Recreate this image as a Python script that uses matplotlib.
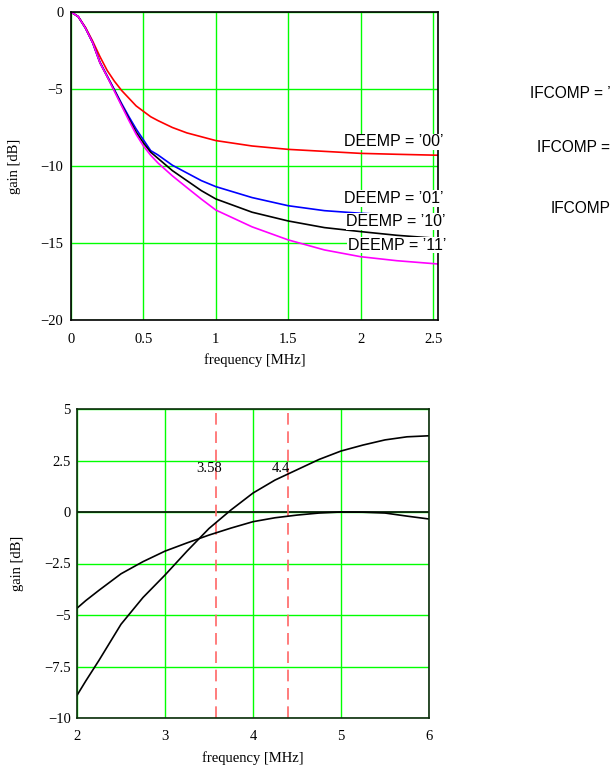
import matplotlib.pyplot as plt

# top chart: de-emphasis curves
freq_top = [0, 0.05, 0.1, 0.15, 0.2, 0.25, 0.3, 0.35, 0.4, 0.45, 0.5, 0.55, 0.6,
            0.7, 0.8, 0.9, 1.0, 1.25, 1.5, 1.75, 2.0, 2.25, 2.53]
gain_00 = [0, -0.3, -1.0, -1.9, -2.9, -3.8, -4.5, -5.1, -5.6, -6.1, -6.45, -6.8, -7.05,
           -7.5, -7.85, -8.1, -8.35, -8.7, -8.92, -9.05, -9.18, -9.24, -9.3]
gain_10 = [0, -0.3, -1.05, -2.0, -3.3, -4.2, -5.1, -6.05, -6.95, -7.8, -8.5, -9.1, -9.5,
           -10.3, -10.95, -11.6, -12.14, -13.0, -13.57, -14.0, -14.26, -14.5, -14.7]
gain_11 = [0, -0.3, -1.05, -2.0, -3.3, -4.2, -5.15, -6.1, -7.05, -7.95, -8.7, -9.3, -9.8,
           -10.64, -11.4, -12.15, -12.86, -13.95, -14.8, -15.45, -15.89, -16.15, -16.36]
freq_01 = freq_top[:-2] + [2.37]
gain_01 = [0, -0.3, -1.05, -2.0, -3.25, -4.15, -5.05, -5.95, -6.8, -7.6, -8.3, -9.0, -9.28,
           -9.95, -10.45, -10.95, -11.34, -12.05, -12.58, -12.9, -13.07, -13.25]

deemp_labels = ["DEEMP = ’00’", "DEEMP = ’01’", "DEEMP = ’10’", "DEEMP = ’11’"]
label_x = [1.885, 1.885, 1.90, 1.913]
label_y = [-8.44, -12.11, -13.6, -15.13]
# only the part that fits inside the picture is shown in the original
ifcomp_labels = ["IFCOMP = ’", "IFCOMP =", "IFCOMP"]

# bottom chart: IF compensation
freq_bot = [2.0, 2.1, 2.25, 2.5, 2.75, 3.0, 3.25, 3.5, 3.75, 4.0, 4.25, 4.5, 4.75,
            5.0, 5.25, 5.5, 5.75, 6.0]
gain_a = [-8.9, -8.2, -7.2, -5.45, -4.15, -3.06, -1.9, -0.8, 0.1, 0.92, 1.55, 2.05, 2.55,
          2.96, 3.25, 3.5, 3.65, 3.7]
gain_b = [-4.67, -4.3, -3.8, -3.0, -2.41, -1.9, -1.5, -1.12, -0.78, -0.47, -0.28, -0.15,
          -0.05, 0, -0.01, -0.05, -0.2, -0.34]
markers = [3.58, 4.4]
marker_labels = ["3.58", "4.4"]

serif = 'Liberation Serif'
sans = 'Liberation Sans'
grid_green = '#00ff00'

fig = plt.figure(figsize=(6.16, 7.71), dpi=100)

# ---- top plot
ax1 = fig.add_axes([71/616, 1 - 320/771, 367/616, 308/771])
ax1.plot(freq_top, gain_00, color='#ff0000', lw=1.2, zorder=3)
ax1.plot(freq_01, gain_01, color='#0000ff', lw=1.2, zorder=3)
ax1.plot(freq_top, gain_10, color='black', lw=1.2, zorder=3)
ax1.plot(freq_top, gain_11, color='#ff00ff', lw=1.2, zorder=3)
for txt, x, y in zip(deemp_labels, label_x, label_y):
    ax1.text(x, y, txt, family=sans, fontsize=11.5, ha='left', va='center',
             clip_on=False, zorder=5,
             bbox=dict(facecolor='white', edgecolor='none', pad=0.5))
ax1.set_xlim(0, 2.534)
ax1.set_ylim(-20, 0)
ax1.set_xticks([0, 0.5, 1, 1.5, 2, 2.5])
ax1.set_xticklabels(['0', '0.5', '1', '1.5', '2', '2.5'])
ax1.set_yticks([0, -5, -10, -15, -20])
ax1.set_yticklabels(['0', '−5', '−10', '−15', '−20'])
ax1.grid(True, color=grid_green, lw=1.0)
ax1.set_axisbelow(True)
for s in ax1.spines.values():
    s.set_color('black')
    s.set_linewidth(1.2)
    s.set_zorder(4)
ax1.set_xlabel('frequency [MHz]', family=serif, fontsize=10.5, va='center')
ax1.xaxis.set_label_coords(0.5, -0.13)
ax1.set_ylabel('gain [dB]', family=serif, fontsize=10.5, va='center')
ax1.yaxis.set_label_coords(-0.153, 0.5)
ax1.tick_params(axis='x', length=0, pad=9, labelsize=10.5)
ax1.tick_params(axis='y', length=0, pad=5.5, labelsize=10.5)
for lbl in ax1.get_xticklabels() + ax1.get_yticklabels():
    lbl.set_family(serif)

# ---- bottom plot
ax2 = fig.add_axes([77/616, 1 - 718/771, 352/616, 309/771])
ax2.plot(freq_bot, gain_a, color='black', lw=1.2, zorder=3)
ax2.plot(freq_bot, gain_b, color='black', lw=1.2, zorder=3)
ax2.axhline(0, color='#0a1f0a', lw=1.3, zorder=2)
for m, txt in zip(markers, marker_labels):
    ax2.axvline(m, color='#ff6666', lw=1.2, dashes=(7, 4), zorder=2)
    ax2.annotate(txt, (m, 2.45), xytext=(-5, 0), textcoords='offset points',
                 family=serif, fontsize=10.5, ha='center', va='top', zorder=4)
ax2.set_xlim(2, 6)
ax2.set_ylim(-10, 5)
ax2.set_xticks([2, 3, 4, 5, 6])
ax2.set_xticklabels(['2', '3', '4', '5', '6'])
ax2.set_yticks([5, 2.5, 0, -2.5, -5, -7.5, -10])
ax2.set_yticklabels(['5', '2.5', '0', '−2.5', '−5', '−7.5', '−10'])
ax2.grid(True, color=grid_green, lw=1.0)
ax2.set_axisbelow(True)
for s in ax2.spines.values():
    s.set_color('#0b2a0b')
    s.set_linewidth(1.2)
    s.set_zorder(4)
ax2.set_xlabel('frequency [MHz]', family=serif, fontsize=10.5, va='center')
ax2.xaxis.set_label_coords(0.5, -0.129)
ax2.set_ylabel('gain [dB]', family=serif, fontsize=10.5, va='center')
ax2.yaxis.set_label_coords(-0.168, 0.5)
ax2.tick_params(axis='x', length=0, pad=9, labelsize=10.5)
ax2.tick_params(axis='y', length=0, pad=4.5, labelsize=10.5)
for lbl in ax2.get_xticklabels() + ax2.get_yticklabels():
    lbl.set_family(serif)

# IFCOMP captions at the right edge
for txt, (px, py) in zip(ifcomp_labels, [(530, 94), (537, 148), (551, 209)]):
    fig.text(px/616, 1 - py/771, txt, family=sans, fontsize=11.2, ha='left', va='center')

fig.savefig('out.png', dpi=100)
